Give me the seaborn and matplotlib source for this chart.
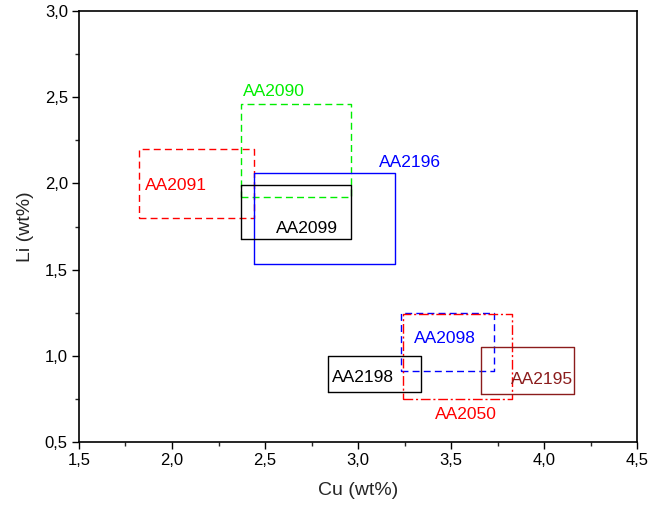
import matplotlib
matplotlib.use("Agg")
import matplotlib.pyplot as plt
import seaborn as sns
import pandas as pd
from matplotlib.ticker import FixedLocator, FixedFormatter, MultipleLocator

sns.set_theme(style="ticks")
plt.rcParams['font.family'] = ['Liberation Sans', 'DejaVu Sans']

# Alloy composition windows (wt%)
alloys = ["AA2091", "AA2090", "AA2196", "AA2099", "AA2198", "AA2098", "AA2050", "AA2195"]
cu_min = [1.82, 2.37, 2.44, 2.37, 2.84, 3.23, 3.24, 3.66]
cu_max = [2.44, 2.96, 3.20, 2.96, 3.34, 3.73, 3.83, 4.16]
li_min = [1.80, 1.92, 1.53, 1.68, 0.79, 0.91, 0.75, 0.78]
li_max = [2.20, 2.46, 2.06, 1.99, 1.00, 1.25, 1.24, 1.05]

colors = ["#ff0000", "#00ee00", "#0000ff", "#000000", "#000000", "#0000ff", "#ff0000", "#8b1c1c"]
styles = [(0, (5, 3)), (0, (5, 3)), "-", "-", "-", (0, (5, 3)), (0, (7, 2, 1.5, 2)), "-"]
# label anchor (x, y) in data coords
label_x = [1.855, 2.38, 3.11, 2.56, 2.86, 3.30, 3.415, 3.82]
label_y = [1.963, 2.505, 2.097, 1.712, 0.85, 1.077, 0.634, 0.838]

xticks = [1.5, 2.0, 2.5, 3.0, 3.5, 4.0, 4.5]
xticklabels = ["1,5", "2,0", "2,5", "3,0", "3,5", "4,0", "4,5"]
yticks = [0.5, 1.0, 1.5, 2.0, 2.5, 3.0]
yticklabels = ["0,5", "1,0", "1,5", "2,0", "2,5", "3,0"]

fig = plt.figure(figsize=(6.49, 5.18), dpi=100)
ax = fig.add_axes([0.1217, 0.1467, 0.86, 0.8320])

for i, name in enumerate(alloys):
    outline = pd.DataFrame({
        "Cu": [cu_min[i], cu_max[i], cu_max[i], cu_min[i], cu_min[i]],
        "Li": [li_min[i], li_min[i], li_max[i], li_max[i], li_min[i]],
    })
    sns.lineplot(data=outline, x="Cu", y="Li", sort=False, estimator=None,
                 color=colors[i], linestyle=styles[i], linewidth=1.0, ax=ax)
    ax.text(label_x[i], label_y[i], name, color=colors[i], fontsize=12.5,
            ha="left", va="baseline")

ax.set_xlim(1.5, 4.5)
ax.set_ylim(0.5, 3.0)
ax.xaxis.set_major_locator(FixedLocator(xticks))
ax.xaxis.set_major_formatter(FixedFormatter(xticklabels))
ax.yaxis.set_major_locator(FixedLocator(yticks))
ax.yaxis.set_major_formatter(FixedFormatter(yticklabels))
ax.xaxis.set_minor_locator(MultipleLocator(0.25))
ax.yaxis.set_minor_locator(MultipleLocator(0.25))
ax.tick_params(which="major", direction="out", length=5, width=1.0, labelsize=12, colors="black", pad=3)
ax.tick_params(which="minor", direction="out", length=3, width=1.0)
for s in ax.spines.values():
    s.set_linewidth(1.2)
    s.set_color("black")
ax.set_xlabel("Cu (wt%)", fontsize=14, labelpad=10)
ax.set_ylabel("Li (wt%)", fontsize=14, labelpad=8)
ax.grid(False)

fig.savefig("out.png", dpi=100)
